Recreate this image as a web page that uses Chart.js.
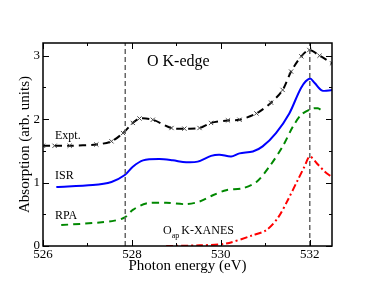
<!DOCTYPE html>
<html>
<head>
<meta charset="utf-8">
<script src="https://cdn.jsdelivr.net/npm/chart.js@4.4.1/dist/chart.umd.min.js"></script>
<style>
  html, body { margin: 0; padding: 0; background: #fff; }
  #wrap { width: 374px; height: 289px; }
</style>
</head>
<body>
<div id="wrap"><canvas id="xanes"></canvas></div>
<script>
// valores (energía en eV, absorción en u. arb.)
const exptX = [526.0, 526.26, 526.6, 527.2, 527.54, 527.8, 528.02, 528.17, 528.47, 528.89, 529.18, 529.52, 529.78, 530.16, 530.42, 530.8, 531.13, 531.39, 531.58, 531.81, 531.99, 532.22, 532.5];
const exptY = [1.58, 1.58, 1.58, 1.6, 1.65, 1.78, 1.94, 2.01, 1.99, 1.86, 1.85, 1.86, 1.94, 1.98, 1.99, 2.09, 2.26, 2.46, 2.75, 2.99, 3.09, 3.0, 2.88];

const isrX = [526.3, 527.12, 527.54, 527.84, 528.02, 528.25, 528.62, 528.92, 529.22, 529.48, 529.78, 529.97, 530.23, 530.42, 530.72, 530.94, 531.24, 531.54, 531.81, 532.0, 532.11, 532.28, 532.5];
const isrY = [0.93, 0.96, 1.01, 1.12, 1.25, 1.35, 1.37, 1.35, 1.32, 1.33, 1.42, 1.44, 1.41, 1.46, 1.49, 1.57, 1.78, 2.09, 2.5, 2.64, 2.57, 2.45, 2.46];

const rpaX = [526.41, 527.27, 527.61, 527.84, 528.02, 528.32, 528.77, 529.22, 529.52, 529.82, 530.12, 530.49, 530.8, 531.09, 531.39, 531.62, 531.81, 532.03, 532.18, 532.29];
const rpaY = [0.33, 0.37, 0.4, 0.45, 0.57, 0.67, 0.68, 0.66, 0.7, 0.8, 0.88, 0.91, 1.01, 1.25, 1.57, 1.88, 2.07, 2.16, 2.17, 2.13];

const oapX = [528.77, 529.52, 530.12, 530.72, 531.02, 531.28, 531.51, 531.73, 531.88, 532.0, 532.19, 532.34, 532.49];
const oapY = [0.0, 0.01, 0.04, 0.17, 0.25, 0.44, 0.73, 1.04, 1.25, 1.41, 1.28, 1.17, 1.09];

const vLines = [527.85, 532.0];
const xTicks = [526, 528, 530, 532];
const yTicks = [0, 1, 2, 3];
const xMin = 526, xMax = 532.5, yMin = 0, yMax = 3.2;

const serif = '"Liberation Serif", "DejaVu Serif", serif';

function toPoints(xs, ys) {
    return xs.map((x, i) => ({ x: x, y: ys[i] }));
}

const datasets = [];
vLines.forEach(function(v) {
    datasets.push({
        data: [{ x: v, y: yMin }, { x: v, y: yMax }],
        borderColor: '#666666',
        borderWidth: 1.5,
        borderDash: [5, 3],
        pointRadius: 0
    });
});
datasets.push({
    data: toPoints(oapX, oapY),
    borderColor: '#ff0000',
    borderWidth: 2,
    borderDash: [7, 3, 2, 3],
    pointRadius: 0,
    tension: 0.3
});
datasets.push({
    data: toPoints(rpaX, rpaY),
    borderColor: '#008800',
    borderWidth: 2,
    borderDash: [7, 5],
    pointRadius: 0,
    tension: 0.3
});
datasets.push({
    data: toPoints(isrX, isrY),
    borderColor: '#0000ff',
    borderWidth: 2,
    pointRadius: 0,
    tension: 0.3
});
datasets.push({
    data: toPoints(exptX, exptY),
    borderColor: '#000000',
    borderWidth: 2,
    borderDash: [7, 5],
    pointStyle: 'crossRot',
    pointRadius: 3,
    pointBorderWidth: 1,
    pointBorderColor: '#444444',
    tension: 0.3
});

// marco, marcas interiores y textos
const decor = {
    id: 'decor',
    afterDraw(chart) {
        const ctx = chart.ctx;
        const a = chart.chartArea;
        const xs = chart.scales.x, ys = chart.scales.y;
        ctx.save();
        ctx.strokeStyle = '#000';
        ctx.lineWidth = 1.5;
        ctx.strokeRect(a.left, a.top, a.right - a.left, a.bottom - a.top);

        ctx.lineWidth = 1;
        for (let v = xMin; v <= xMax; v += 1) {
            const px = Math.round(xs.getPixelForValue(v)) + 0.5;
            const len = (v % 2 === 0) ? 6 : 3;
            ctx.beginPath();
            ctx.moveTo(px, a.bottom); ctx.lineTo(px, a.bottom - len);
            ctx.moveTo(px, a.top); ctx.lineTo(px, a.top + len);
            ctx.stroke();
        }
        for (let v = yMin; v <= yMax; v += 0.5) {
            const py = Math.round(ys.getPixelForValue(v)) + 0.5;
            const len = (v % 1 === 0) ? 6 : 3;
            ctx.beginPath();
            ctx.moveTo(a.left, py); ctx.lineTo(a.left + len, py);
            ctx.moveTo(a.right, py); ctx.lineTo(a.right - len, py);
            ctx.stroke();
        }

        ctx.fillStyle = '#000';
        ctx.textBaseline = 'middle';
        ctx.textAlign = 'left';
        ctx.font = '16px ' + serif;
        ctx.fillText('O K-edge', 147, 62);

        ctx.font = '12px ' + serif;
        ctx.fillText('Expt.', 55, 136);
        ctx.fillText('ISR', 55, 176);
        ctx.fillText('RPA', 55, 216);

        // O_ap K-XANES
        let tx = 163;
        ctx.font = '12px ' + serif;
        ctx.fillText('O', tx, 231);
        tx += ctx.measureText('O').width;
        ctx.font = '8px ' + serif;
        ctx.fillText('ap', tx, 236);
        tx += ctx.measureText('ap').width + 2;
        ctx.font = '12px ' + serif;
        ctx.fillText('K-XANES', tx, 231);

        ctx.font = '15px ' + serif;
        ctx.textAlign = 'center';
        ctx.fillText('Photon energy (eV)', (a.left + a.right) / 2, 266);
        ctx.translate(25, (a.top + a.bottom) / 2);
        ctx.rotate(-Math.PI / 2);
        ctx.fillText('Absorption (arb. units)', 0, 0);
        ctx.restore();
    }
};

new Chart(document.getElementById('xanes'), {
    type: 'line',
    data: { datasets: datasets },
    options: {
        responsive: true,
        maintainAspectRatio: false,
        animation: false,
        layout: { padding: { top: 43, right: 42, left: 0, bottom: 0 } },
        plugins: { legend: { display: false }, tooltip: { enabled: false } },
        scales: {
            x: {
                type: 'linear',
                min: xMin,
                max: xMax,
                afterBuildTicks: function(scale) { scale.ticks = xTicks.map(v => ({ value: v })); },
                afterFit: function(scale) { scale.height = 43; },
                grid: { display: false, drawTicks: false, tickLength: 0 },
                border: { display: false },
                ticks: { color: '#000', font: { family: serif, size: 13 }, padding: 1, maxRotation: 0, autoSkip: false }
            },
            y: {
                type: 'linear',
                min: yMin,
                max: yMax,
                afterBuildTicks: function(scale) { scale.ticks = yTicks.map(v => ({ value: v })); },
                afterFit: function(scale) { scale.width = 43; },
                grid: { display: false, drawTicks: false, tickLength: 0 },
                border: { display: false },
                ticks: { color: '#000', font: { family: serif, size: 13 }, padding: 3, autoSkip: false }
            }
        }
    },
    plugins: [decor]
});
</script>
</body>
</html>
